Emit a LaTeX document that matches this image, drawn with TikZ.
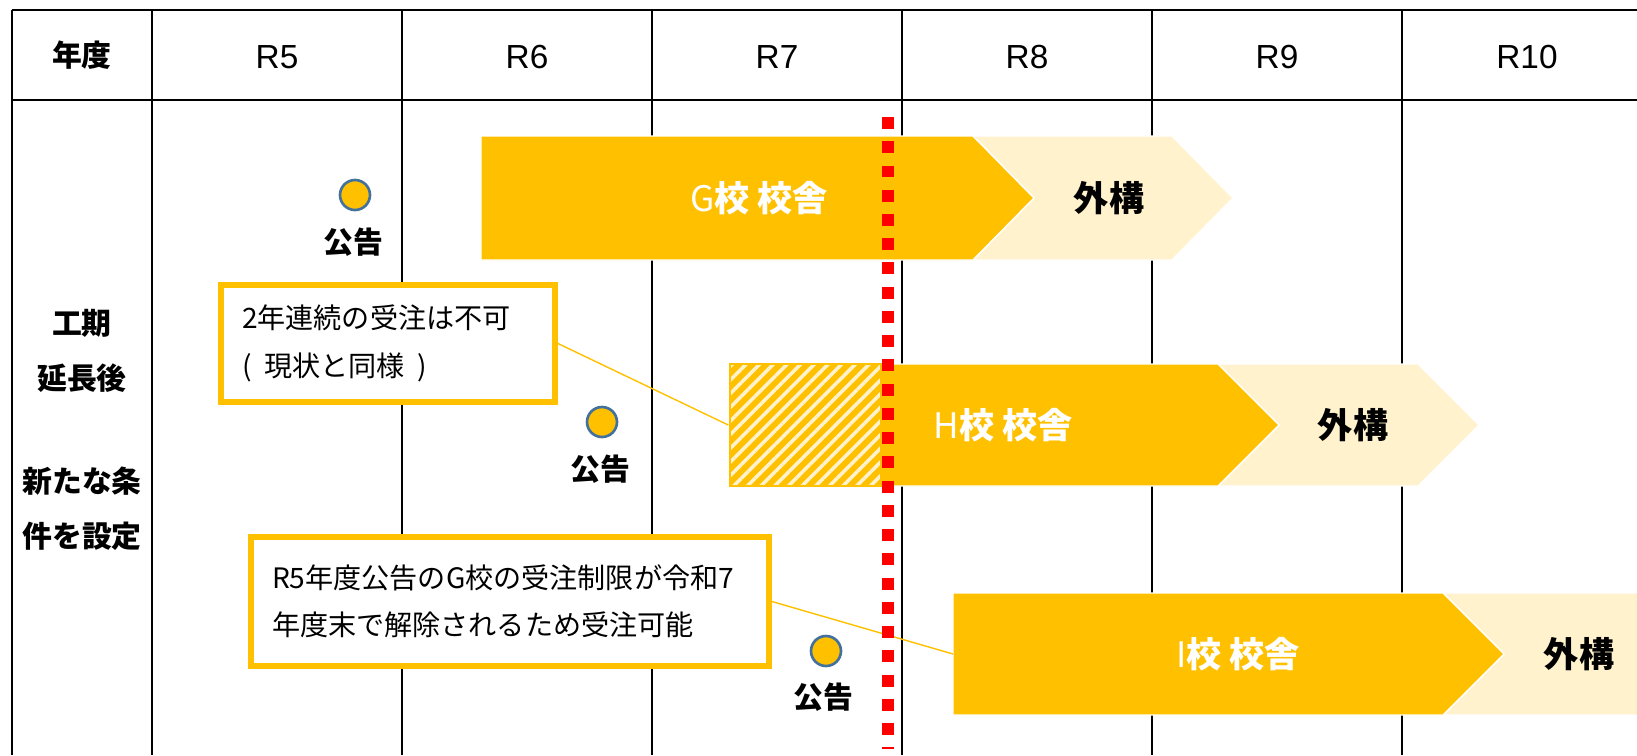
\documentclass[tikz,border=0pt]{standalone}
\usepackage{fontspec}
\setmainfont{Noto Sans CJK JP}
\newfontfamily\latinfont{Liberation Sans}
\usepackage{tikz}
\usetikzlibrary{positioning,patterns.meta}
\definecolor{barorange}{HTML}{FFC000}
\definecolor{barlight}{HTML}{FFF2CC}
\definecolor{dotblue}{HTML}{41719C}

\begin{document}
\begin{tikzpicture}[x=0.02cm,y=-0.02cm]
    \tikzstyle{gridline}=[line width=1.2pt, black]
    \tikzstyle{mainbar}=[fill=barorange, draw=white, line width=0.8pt]
    \tikzstyle{extbar}=[fill=barlight, draw=white, line width=0.8pt]
    \tikzstyle{hatchbox}=[draw=barorange, line width=0.6pt, preaction={fill=barorange}, pattern={Lines[angle=45,distance=5.5pt,line width=2pt]}, pattern color=barlight, minimum width=3.02cm, minimum height=2.44cm, inner sep=0pt]
    \tikzstyle{barlabel}=[font=\fontsize{20}{24}\selectfont\bfseries, text=white]
    \tikzstyle{extlabel}=[font=\fontsize{20}{24}\selectfont\bfseries]
    \tikzstyle{notice}=[circle, fill=barorange, draw=dotblue, line width=1.5pt, minimum size=0.6cm, inner sep=0pt]
    \tikzstyle{noticelabel}=[font=\fontsize{17}{20}\selectfont\bfseries]
    \tikzstyle{callout}=[draw=barorange, line width=3.4pt, fill=white, align=left, inner xsep=0.42cm, inner ysep=0pt, font=\fontsize{16}{27}\selectfont]
    \tikzstyle{leader}=[draw=barorange, line width=0.8pt]
    \tikzstyle{yearlabel}=[font=\latinfont\fontsize{19}{22}\selectfont]

    \useasboundingbox (0,0) rectangle (1637,755);

    % table
    \draw[gridline] (12,10) -- (1637,10);
    \draw[gridline] (12,100) -- (1637,100);
    \foreach \x in {12,152,402,652,902,1152,1402}
        \draw[gridline] (\x,10) -- (\x,755);

    \node[font=\fontsize{17}{20}\selectfont\bfseries] (nendo) at (82,55) {年度};
    \foreach \y [count=\i from 0] in {R5,R6,R7,R8,R9,R10}
        \node[yearlabel] (year\i) at (277+250*\i,57) {\y};

    \node[font=\fontsize{17}{31}\selectfont\bfseries, align=center] (rowlabel) at (82,430)
        {工期\\延長後\\[28pt]新たな条\\件を設定};

    % G school
    \fill[extbar] (973,136) -- (1172,136) -- (1233,198) -- (1172,260) -- (973,260) -- (1034,198) -- cycle;
    \fill[mainbar] (481,136) -- (973,136) -- (1034,198) -- (973,260) -- (481,260) -- cycle;
    \node[barlabel] (gmain) at (759,198) {{\mdseries G}校 校舎};
    \node[extlabel] (gext) at (1109,198) {外構};

    % H school
    \fill[extbar] (1218,364) -- (1418,364) -- (1479,425) -- (1418,486) -- (1218,486) -- (1279,425) -- cycle;
    \fill[mainbar] (881,364) -- (1218,364) -- (1279,425) -- (1218,486) -- (881,486) -- cycle;
    \node[hatchbox] (hhatch) at (805.5,425) {};
    \node[barlabel] (hmain) at (1003,425) {{\mdseries H}校 校舎};
    \node[extlabel] (hext) at (1353,425) {外構};

    % I school
    \fill[extbar] (1443,593) -- (1640,593) -- (1640,715) -- (1443,715) -- (1504,654) -- cycle;
    \fill[mainbar] (953,593) -- (1443,593) -- (1504,654) -- (1443,715) -- (953,715) -- cycle;
    \coordinate (ibar) at (953,654);
    \node[barlabel] (imain) at (1238,654) {{\mdseries I}校 校舎};
    \node[extlabel] (iext) at (1579,654) {外構};

    % notices
    \node[notice] (gnotice) at (355,195) {};
    \node[noticelabel] (gnoticetext) at (353,242) {公告};
    \node[notice] (hnotice) at (602,422) {};
    \node[noticelabel] (hnoticetext) at (600,469) {公告};
    \node[notice] (inotice) at (826,651) {};
    \node[noticelabel] (inoticetext) at (823,697) {公告};

    % callouts
    \node[callout, text width=5.84cm, minimum height=2.34cm] (noteh) at (388,343.5)
        {2年連続の受注は不可\\(\hspace{0.45em}現状と同様\hspace{0.45em})};
    \node[callout, text width=9.52cm, minimum height=2.58cm] (notei) at (510,601.5)
        {R5年度公告のG校の受注制限が令和7\\年度末で解除されるため受注可能};
    \draw[leader] (noteh.east) -- (hhatch.west);
    \draw[leader] (notei.east) -- (ibar);

    % R7 end
    \draw[red, line width=6.6pt, dash pattern=on 6.8pt off 7pt] (888,117) -- (888,749);
\end{tikzpicture}
\end{document}
